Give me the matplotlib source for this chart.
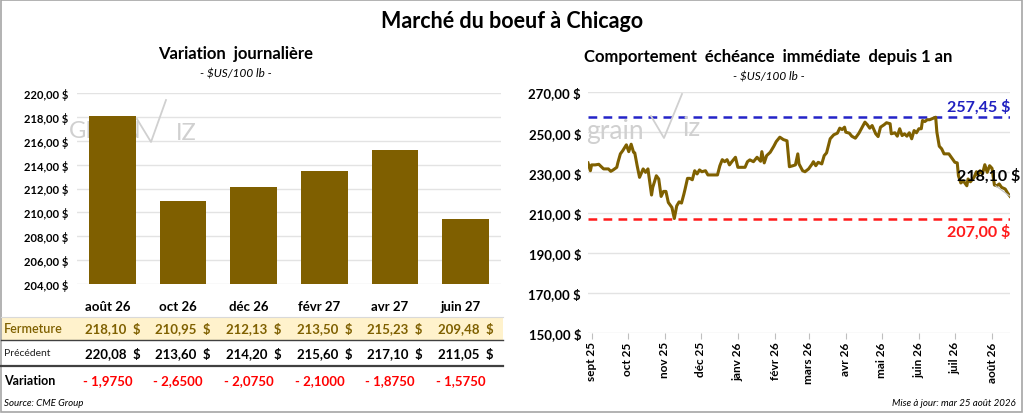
import matplotlib.pyplot as plt
import matplotlib.patches as mpatches
import matplotlib.transforms as mtransforms
import matplotlib.ticker as ticker
import pandas as pd

# daily variation (left)
echeances = ["août 26", "oct 26", "déc 26", "févr 27", "avr 27", "juin 27"]
fermeture = [218.10, 210.95, 212.13, 213.50, 215.23, 209.48]
precedent = [220.08, 213.60, 214.20, 215.60, 217.10, 211.05]
variation = [-1.9750, -2.6500, -2.0750, -2.1000, -1.8750, -1.5750]

# nearby contract over one year (right), days since 2025-09-01
jours = [-3, -1, 0, 3, 6, 10, 14, 16, 18, 21, 22, 24, 26, 29, 31, 33, 35, 36, 38, 40,
         43, 45, 47, 50, 51, 54, 56, 58, 60, 62, 64, 67, 69, 71, 73, 75, 77, 78, 80, 82,
         84, 86, 88, 90, 92, 95, 97, 102, 105, 107, 109, 111, 113, 115, 117, 120, 122, 125, 128, 130,
         132, 135, 138, 141, 142, 144, 146, 149, 152, 154, 157, 160, 163, 165, 168, 170, 172, 173, 176, 178,
         181, 184, 185, 187, 189, 192, 194, 196, 199, 202, 205, 207, 209, 211, 212, 215, 217, 220, 223, 225,
         228, 230, 232, 234, 237, 239, 241, 244, 246, 249, 250, 253, 255, 257, 259, 261, 263, 265, 267, 269,
         271, 273, 275, 276, 278, 280, 282, 284, 287, 288, 290, 292, 294, 298, 301, 303, 305, 306, 308, 310,
         313, 314, 316, 319, 321, 322, 324, 326, 328, 330, 332, 334, 336, 338, 340, 342, 345, 347, 349]
prix = [234.7, 230.8, 233.7, 233.7, 234.0, 231.7, 231.7, 230.5, 231.2, 232.5,
        235.0, 239.2, 240.8, 243.7, 240.3, 244.0, 240.0, 239.7, 233.3, 227.5,
        231.7, 230.0, 231.7, 218.7, 222.5, 228.3, 226.7, 218.0, 220.5, 220.5,
        215.0, 212.5, 207.0, 213.3, 215.3, 214.7, 219.2, 221.7, 227.0, 227.0,
        226.3, 230.8, 229.2, 231.2, 230.3, 230.8, 228.7, 228.7, 228.7, 233.3,
        236.3, 235.3, 236.3, 233.7, 235.3, 237.5, 232.5, 232.5, 232.5, 235.3,
        236.2, 235.3, 237.5, 235.5, 240.3, 234.7, 238.3, 240.0, 243.0, 245.3,
        247.5, 246.3, 245.7, 232.8, 233.3, 233.7, 239.2, 234.2, 230.8, 230.3,
        231.7, 234.2, 235.3, 233.3, 235.0, 234.2, 238.3, 239.7, 246.7, 248.7,
        249.5, 252.0, 251.3, 252.5, 250.0, 249.5, 248.0, 247.0, 249.5, 251.7,
        255.0, 253.7, 252.0, 253.3, 249.2, 247.8, 252.5, 253.7, 254.7, 254.2,
        249.2, 249.7, 248.0, 251.7, 248.3, 249.2, 248.0, 249.7, 246.7, 250.8,
        249.7, 251.7, 251.7, 255.8, 255.3, 256.2, 256.2, 256.7, 257.45, 250.0,
        243.0, 241.7, 239.2, 239.2, 236.7, 235.0, 234.7, 228.3, 224.7, 225.8,
        223.3, 226.7, 225.3, 227.5, 230.3, 228.7, 230.8, 229.2, 233.8, 230.0,
        233.3, 232.0, 223.7, 223.3, 224.2, 222.5, 221.7, 219.7, 218.1]
mois = ["sept 25", "oct 25", "nov 25", "déc 25", "janv 26", "févr 26", "mars 26",
        "avr 26", "mai 26", "juin 26", "juil 26", "août 26"]
graduations = [150, 170, 190, 210, 230, 250, 270]

BROWN = "#7F6000"
W, H = 1024, 414


def fmt(v):
    return f"{v:,.2f}".replace(",", " ").replace(".", ",")


def fy(px):
    return 1 - px / H


plt.rcParams['font.family'] = ['Lato', 'DejaVu Sans']
fig = plt.figure(figsize=(W / 100, H / 100), dpi=100)

# frame
fig.patches.append(mpatches.Rectangle((0.001, 0.002), 0.997, 0.995, transform=fig.transFigure,
                                      fill=False, edgecolor="#A6A6A6", linewidth=1.2))

fig.text(512 / W, fy(22), "Marché du boeuf à Chicago", ha="center", va="center",
         fontsize=15.5, fontweight="bold")

# ---------- left: bars ----------
ax1 = fig.add_axes([77 / W, fy(285), 424 / W, 191 / H])
x = list(range(len(echeances)))
ax1.bar(x, fermeture, width=0.66, color="#7F5F00", zorder=3)
ax1.set_ylim(204, 220)
ax1.set_xlim(-0.5, 5.5)
ax1.yaxis.set_major_locator(ticker.MultipleLocator(2))
ax1.yaxis.set_major_formatter(ticker.FuncFormatter(lambda v, p: fmt(v) + " $"))
ax1.grid(axis="y", color="#E3E3E3", linewidth=1, zorder=0)
ax1.set_xticks([])
for s in ax1.spines.values():
    s.set_visible(False)
ax1.tick_params(axis="y", length=0, labelsize=8, pad=6)
for lab in ax1.get_yticklabels():
    lab.set_fontweight("bold")
fig.text(236 / W, fy(54), "Variation  journalière", ha="center", va="center",
         fontsize=12, fontweight="bold")
fig.text(236 / W, fy(74), "- $US/100 lb -", ha="center", va="center", fontsize=8.5, style="italic")

# watermark left
ax1.text(-0.62, 216.9, "GRAIN", fontsize=17, color="#D0D0D0", zorder=1, va="center")
ax1.text(0.9, 216.7, "IZ", fontsize=17, color="#D0D0D0", zorder=1, va="center")
fig.lines.append(plt.Line2D([137 / W, 151 / W, 166 / W], [fy(120), fy(143), fy(101)],
                            transform=fig.transFigure, color="#D0D0D0", linewidth=1.3, zorder=0))

# table under bars
tr = mtransforms.blended_transform_factory(ax1.transData, fig.transFigure)
fig.patches.append(mpatches.Rectangle((1 / W, fy(341)), 502 / W, 23 / H, transform=fig.transFigure,
                                      facecolor="#FFF2CC", edgecolor="none", zorder=0))
fig.lines.append(plt.Line2D([1 / W, 503 / W], [fy(318), fy(318)], transform=fig.transFigure,
                            color="#D9D9D9", linewidth=0.8))
fig.lines.append(plt.Line2D([1 / W, 503 / W], [fy(341), fy(341)], transform=fig.transFigure,
                            color="#404040", linewidth=1.0))
fig.lines.append(plt.Line2D([1 / W, 503 / W], [fy(367), fy(367)], transform=fig.transFigure,
                            color="#404040", linewidth=1.6))
fig.text(4 / W, fy(329), "Fermeture", fontsize=9, color=BROWN, fontweight="semibold", va="center")
fig.text(4 / W, fy(354), "Précédent", fontsize=7.5, color="#202020", va="center")
fig.text(4 / W, fy(381), "Variation", fontsize=9, fontweight="bold", va="center")
for i in x:
    fig.text(i - 0.07, fy(307), echeances[i], transform=tr, ha="center", va="center",
             fontsize=9.5, fontweight="bold")
    fig.text(i, fy(329), fmt(fermeture[i]) + "  $", transform=tr, ha="center", va="center",
             fontsize=9.5, fontweight="bold", color=BROWN)
    fig.text(i, fy(354), fmt(precedent[i]) + "  $", transform=tr, ha="center", va="center",
             fontsize=9.5, fontweight="bold")
    fig.text(i - 0.07, fy(381), "- " + f"{abs(variation[i]):.4f}".replace(".", ","), transform=tr,
             ha="center", va="center", fontsize=9.5, fontweight="bold", color="#FF0000")
fig.text(4 / W, fy(404), "Source: CME Group", fontsize=7, style="italic", va="center")

# ---------- right: line ----------
ax2 = fig.add_axes([588 / W, fy(334), 422 / W, 241 / H])
debut = pd.Timestamp("2025-09-01")
dates = debut + pd.to_timedelta(jours, unit="D")
haut, bas = max(prix), min(prix)
ax2.plot(dates, prix, color=BROWN, linewidth=2.2, zorder=3)
ax2.axhline(haut, color="#2424C8", linestyle=(0, (3.5, 2.5)), linewidth=1.8, zorder=2)
ax2.axhline(bas, color="#FF1A1A", linestyle=(0, (3.5, 2.5)), linewidth=1.8, zorder=2)
ax2.set_ylim(graduations[0], graduations[-1])
ax2.set_xlim(dates[0], dates[-1])
ax2.set_yticks(graduations)
ax2.yaxis.set_major_formatter(ticker.FuncFormatter(lambda v, p: fmt(v) + " $"))
ax2.grid(axis="y", color="#E3E3E3", linewidth=1, zorder=0)
for s in ax2.spines.values():
    s.set_visible(False)
ticks = pd.date_range(debut, periods=len(mois), freq="MS")
ax2.set_xticks(ticks)
ax2.set_xticklabels(mois, rotation=90, fontsize=8.5, fontweight="bold")
ax2.tick_params(axis="x", length=4, color="#BFBFBF", pad=2)
ax2.tick_params(axis="y", length=0, labelsize=9.5, pad=5)
for lab in ax2.get_yticklabels():
    lab.set_fontweight("bold")
fig.text(768 / W, fy(57), "Comportement  échéance  immédiate  depuis 1 an", ha="center", va="center",
         fontsize=12, fontweight="bold")
fig.text(769 / W, fy(77), "- $US/100 lb -", ha="center", va="center", fontsize=8.5, style="italic")
ax2.text(1.0, haut + 5.5, fmt(haut) + " $", transform=ax2.get_yaxis_transform(), ha="right",
         va="center", fontsize=11.5, fontweight="bold", color="#2020C0")
ax2.text(1.0, bas - 6.5, fmt(bas) + " $", transform=ax2.get_yaxis_transform(), ha="right",
         va="center", fontsize=11.5, fontweight="bold", color="#FF1A1A")
ax2.annotate(fmt(prix[-1]) + " $", xy=(dates[-1], prix[-1]), xytext=(1.024, 228.5),
             textcoords=ax2.get_yaxis_transform(), ha="right", va="center", fontsize=11.5,
             fontweight="bold", annotation_clip=False,
             arrowprops=dict(arrowstyle="-", color="#C0C0C0", linewidth=0.8,
                             shrinkA=0, shrinkB=0, relpos=(0.55, 0)))

# watermark right
fig.text(586 / W, fy(131), "grain", fontsize=19, color="#D0D0D0", va="center", zorder=0)
fig.text(683 / W, fy(129), "iz", fontsize=19, color="#D0D0D0", va="center", zorder=0)
fig.lines.append(plt.Line2D([651 / W, 664 / W, 682 / W], [fy(117), fy(139), fy(95)],
                            transform=fig.transFigure, color="#D0D0D0", linewidth=1.3, zorder=0))

fig.text(1016 / W, fy(404), "Mise à jour: mar 25 août 2026", fontsize=7, style="italic",
         ha="right", va="center")

fig.savefig("out.png", dpi=100)
